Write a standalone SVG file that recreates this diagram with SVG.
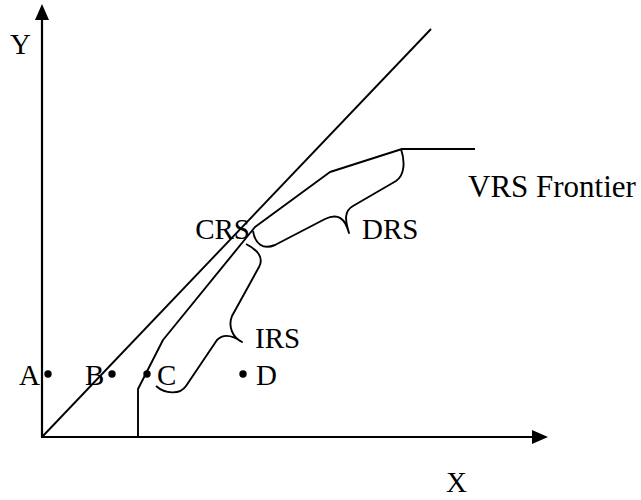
<svg xmlns="http://www.w3.org/2000/svg" width="641" height="500" viewBox="0 0 641 500">
<style>
  .ln{fill:none;stroke:#000;stroke-width:1.9;stroke-linejoin:round;stroke-linecap:butt}
  .ax{fill:none;stroke:#000;stroke-width:2.2}
  .t{font-family:"Liberation Serif","Times New Roman",serif;font-size:29px;fill:#000}
  .dot{fill:#000}
</style>
<rect width="641" height="500" fill="#fff"/>
<g id="connectors">
  <line class="ax" x1="42" y1="437" x2="42" y2="18"/>
  <polygon points="42,4 35,20 49,20" fill="#000"/>
  <line class="ax" x1="41" y1="437" x2="533" y2="437"/>
  <polygon points="548,437 532,430 532,444" fill="#000"/>
  <line class="ln" x1="42" y1="437" x2="431" y2="29"/>
</g>
<g id="frontier">
  <path class="ln" d="M138,437 L138,389 L163,340 L255,227 L330,172 L402,149 L475,149"/>
</g>
<g id="drs-brace">
  <path class="ln" d="M253,231 C255,244 263,250 275,245 L325,219 C338,213 345,218 349,233 C345,220 344,211 353,206 L396,181 C405,175 405,161 401,149"/>
</g>
<g id="irs-brace">
  <path class="ln" d="M246,244 C258,250 264,258 259,267 L232,316 C228,326 232,337 242,342 C232,335 223,334 217,340 L186,386 C180,395 165,394 156,386"/>
</g>
<g id="points">
  <circle class="dot" cx="48" cy="374" r="3.7"/>
  <circle class="dot" cx="112" cy="374" r="3.7"/>
  <circle class="dot" cx="147" cy="374" r="3.7"/>
  <circle class="dot" cx="243" cy="374" r="3.7"/>
</g>
<g id="labels">
  <text class="t" x="10" y="54">Y</text>
  <text class="t" x="446" y="492">X</text>
  <text class="t" x="19" y="385">A</text>
  <text class="t" x="85" y="385">B</text>
  <text class="t" x="157" y="385">C</text>
  <text class="t" x="256" y="385">D</text>
  <text class="t" x="250" y="239" text-anchor="end">CRS</text>
  <text class="t" x="362" y="239">DRS</text>
  <text class="t" x="255" y="348">IRS</text>
  <text class="t" x="468" y="197" style="font-size:31px">VRS Frontier</text>
</g>
</svg>
